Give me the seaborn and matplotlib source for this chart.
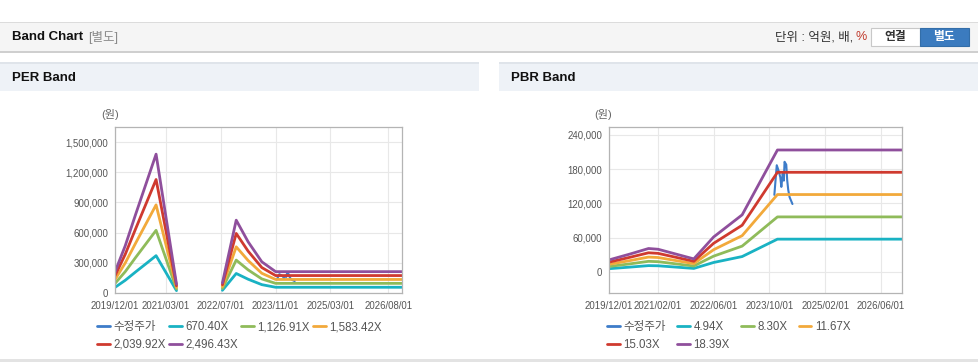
import pandas as pd
import matplotlib
matplotlib.use("Agg")
import matplotlib.pyplot as plt
import matplotlib.dates as mdates
from matplotlib.patches import Rectangle
from matplotlib.ticker import FuncFormatter
import seaborn as sns

sns.set_style("white")
plt.rcParams['font.family'] = ['Liberation Sans', 'Noto Sans CJK KR', 'DejaVu Sans']

W, H = 979, 362

# ---- data ----
price_label = '수정주가'
price_dates = ['2023-11-13', '2023-12-04', '2023-12-19', '2024-01-04', '2024-01-13', '2024-01-25',
               '2024-02-04', '2024-02-10', '2024-02-25', '2024-03-04', '2024-03-13', '2024-03-25',
               '2024-04-19']
price_values = [135000, 187000, 178000, 166000, 149000, 172000,
                160000, 193000, 188000, 161000, 144000, 131000, 119000]

# PER band: two segments with a gap between them
per_labels = ['670.40X', '1,126.91X', '1,583.42X', '2,039.92X', '2,496.43X']
per_dates = ['2019-12-01', '2020-03-01', '2020-06-01', '2020-09-01', '2020-12-01', '2021-06-01',
             '2022-07-15', '2022-11-15', '2023-03-01', '2023-07-01', '2023-11-01', '2026-12-01']
per_segment = [0, 0, 0, 0, 0, 0, 1, 1, 1, 1, 1, 1]
per_670 = [56000, 126000, 209000, 290000, 371000, 23500,
           26800, 194000, 137000, 83000, 57000, 57000]
per_1126 = [95000, 212000, 352000, 488000, 623000, 39400,
            45100, 327000, 230000, 140000, 95800, 95800]
per_1583 = [133000, 298000, 494000, 686000, 876000, 55400,
            63300, 459000, 323000, 196000, 134600, 134600]
per_2039 = [171000, 384000, 636000, 883000, 1128000, 71400,
            81600, 592000, 416000, 253000, 173400, 173400]
per_2496 = [210000, 469000, 779000, 1081000, 1380000, 87400,
            99900, 724000, 509000, 310000, 212200, 212200]

# PBR band
pbr_labels = ['4.94X', '8.30X', '11.67X', '15.03X', '18.39X']
pbr_dates = ['2019-12-01', '2020-06-01', '2020-11-10', '2021-02-01', '2021-12-10', '2022-06-01',
             '2023-02-05', '2023-12-10', '2026-12-01']
pbr_segment = [0, 0, 0, 0, 0, 0, 0, 0, 0]
pbr_494 = [5600, 8400, 11000, 10700, 6100, 16500, 26900, 57400, 57400]
pbr_830 = [9500, 14100, 18500, 17900, 10300, 27600, 45200, 96400, 96400]
pbr_1167 = [13300, 19800, 26000, 25200, 14500, 38900, 63500, 135600, 135600]
pbr_1503 = [17100, 25600, 33500, 32500, 18600, 50100, 81800, 174600, 174600]
pbr_1839 = [21000, 31300, 41000, 39700, 22800, 61200, 100000, 213700, 213700]

per_xticks = ['2019-12-01', '2021-03-01', '2022-07-01', '2023-11-01', '2025-03-01', '2026-08-01']
pbr_xticks = ['2019-12-01', '2021-02-01', '2022-06-01', '2023-10-01', '2025-02-01', '2026-06-01']

colors = ['#3d7cc9', '#19b2c3', '#8fbb5a', '#f2a93b', '#cf3a2f', '#8f4f9c']


def build_frame(labels, series, dates_list, segments):
    rows = []
    for d, v in zip(price_dates, price_values):
        rows.append((price_label, 9, pd.Timestamp(d), v))
    for lab, vals in zip(labels, series):
        for d, s, v in zip(dates_list, segments, vals):
            rows.append((lab, s, pd.Timestamp(d), v))
    return pd.DataFrame(rows, columns=['series', 'seg', 'date', 'value'])


def px(x):
    return x / W


def py(y):
    return 1 - y / H


fig = plt.figure(figsize=(W / 100, H / 100), dpi=100)
fig.patch.set_facecolor('white')

# top bar
fig.patches.append(Rectangle((0, py(52)), 1, (52 - 22) / H, transform=fig.transFigure,
                             facecolor='#f5f5f5', edgecolor='none', zorder=0))
fig.patches.append(Rectangle((0, py(23)), 1, 1 / H, transform=fig.transFigure,
                             facecolor='#dcdcdc', edgecolor='none', zorder=1))
fig.patches.append(Rectangle((0, py(53)), 1, 1.5 / H, transform=fig.transFigure,
                             facecolor='#cfcfcf', edgecolor='none', zorder=1))
fig.text(px(12), py(37), 'Band Chart', fontsize=9.5, fontweight='bold', va='center', color='#111')
fig.text(px(88), py(37), '[별도]', fontsize=9, va='center', color='#8a8a8a')
fig.text(px(853), py(37), '단위 : 억원, 배,', fontsize=9, va='center', ha='right', color='#333')
fig.text(px(855), py(37), '%', fontsize=9, va='center', ha='left', color='#c0392b')
fig.patches.append(Rectangle((px(871), py(46)), px(49), 18 / H, transform=fig.transFigure,
                             facecolor='white', edgecolor='#c8c8c8', lw=0.8, zorder=2))
fig.patches.append(Rectangle((px(920), py(46)), px(49), 18 / H, transform=fig.transFigure,
                             facecolor='#3b7bbf', edgecolor='#336ea9', lw=0.8, zorder=2))
fig.text(px(895), py(37), '연결', fontsize=8.5, va='center', ha='center', color='#333', fontweight='bold')
fig.text(px(944), py(37), '별도', fontsize=8.5, va='center', ha='center', color='white', fontweight='bold')

# panel headers
for x0, x1, title in [(0, 479, 'PER Band'), (499, 979, 'PBR Band')]:
    fig.patches.append(Rectangle((px(x0), py(91)), px(x1 - x0), 28 / H, transform=fig.transFigure,
                                 facecolor='#eef2f7', edgecolor='none', zorder=0))
    fig.patches.append(Rectangle((px(x0), py(64)), px(x1 - x0), 1.5 / H, transform=fig.transFigure,
                                 facecolor='#dfe4ea', edgecolor='none', zorder=1))
    fig.text(px(x0 + 12), py(78), title, fontsize=9.5, fontweight='bold', va='center', color='#111')

fig.patches.append(Rectangle((0, 0), 1, 3 / H, transform=fig.transFigure,
                             facecolor='#e3e3e3', edgecolor='none', zorder=0))

per_df = build_frame(per_labels, [per_670, per_1126, per_1583, per_2039, per_2496],
                     per_dates, per_segment)
pbr_df = build_frame(pbr_labels, [pbr_494, pbr_830, pbr_1167, pbr_1503, pbr_1839],
                     pbr_dates, pbr_segment)

panels = [
    dict(df=per_df, labels=per_labels, rect=(115, 402), ylim=(0, 1650000),
         yticks=[0, 300000, 600000, 900000, 1200000, 1500000], xticks=per_xticks,
         unit_x=110, leg_x=97, colsp=0.3),
    dict(df=pbr_df, labels=pbr_labels, rect=(609, 902), ylim=(-37000, 254000),
         yticks=[0, 60000, 120000, 180000, 240000], xticks=pbr_xticks,
         unit_x=603, leg_x=607, colsp=1.0),
]

for p in panels:
    l, r = p['rect']
    ax = fig.add_axes([px(l), py(293), px(r - l), (293 - 127) / H])
    order = [price_label] + p['labels']
    sns.lineplot(data=p['df'], x='date', y='value', hue='series', hue_order=order,
                 units='seg', estimator=None, palette=colors, linewidth=2, ax=ax)
    ax.lines[0].set_linewidth(1.5)
    ax.set_xlim(pd.Timestamp('2019-12-01'), pd.Timestamp('2026-12-01'))
    ax.set_ylim(*p['ylim'])
    ax.set_yticks(p['yticks'])
    ax.yaxis.set_major_formatter(FuncFormatter(lambda v, _: f'{v:,.0f}'))
    ax.set_xticks([pd.Timestamp(d) for d in p['xticks']])
    ax.xaxis.set_major_formatter(mdates.DateFormatter('%Y/%m/%d'))
    ax.grid(True, color='#e8e8e8', lw=0.8)
    ax.set_axisbelow(True)
    for s in ax.spines.values():
        s.set_color('#b4b4b4')
        s.set_linewidth(0.9)
    ax.tick_params(axis='y', length=0, labelsize=6.9, labelcolor='#555', pad=5)
    ax.tick_params(axis='x', length=4, color='#b4b4b4', labelsize=6.9, labelcolor='#555', pad=2)
    ax.set_xlabel('')
    ax.set_ylabel('')
    fig.text(px(p['unit_x']), py(115), '(원)', fontsize=8, ha='center', va='center', color='#666')

    handles, labels = ax.get_legend_handles_labels()
    ax.get_legend().remove()
    idx = [0, 4, 1, 5, 2, 3]
    leg = fig.legend([handles[i] for i in idx], [labels[i] for i in idx], ncol=4,
                     loc='upper left', bbox_to_anchor=(px(p['leg_x']), py(321)),
                     bbox_transform=fig.transFigure, frameon=False, fontsize=8.3,
                     handlelength=1.1, handletextpad=0.3, columnspacing=p['colsp'],
                     labelspacing=0.5, borderpad=0, borderaxespad=0)
    for t in leg.get_texts():
        t.set_color('#555')
    for h in leg.legend_handles:
        h.set_linewidth(2)

fig.savefig('out.png', dpi=100)
